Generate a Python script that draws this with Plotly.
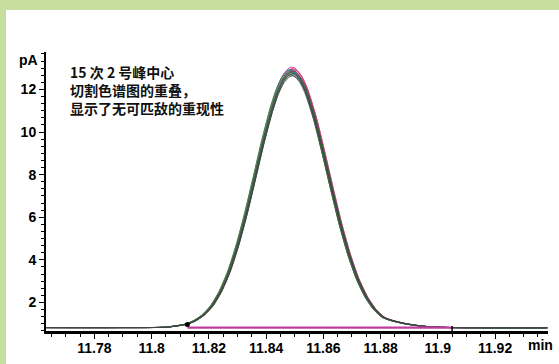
import plotly.graph_objects as go

# ---- data ----
# sample times (min) and a single read-off profile (pA) of a typical run
times = [11.763, 11.790, 11.805, 11.812, 11.815, 11.818, 11.821, 11.824, 11.827,
         11.830, 11.833, 11.836, 11.839, 11.842, 11.844, 11.846, 11.848, 11.849,
         11.850, 11.852, 11.854,
         11.857, 11.860, 11.863, 11.866, 11.869, 11.872, 11.875, 11.878, 11.881,
         11.884, 11.888, 11.892, 11.896, 11.900, 11.905, 11.920, 11.938]
profile = [0.82, 0.82, 0.84, 0.98, 1.14, 1.41, 1.84, 2.51, 3.45,
           4.70, 6.21, 7.91, 9.64, 11.17, 11.99, 12.56, 12.86, 12.90,
           12.86, 12.56, 11.99,
           10.70, 9.07, 7.34, 5.68, 4.25, 3.10, 2.26, 1.67, 1.30,
           1.15, 1.02, 0.93, 0.87, 0.84, 0.82, 0.81, 0.81]
profile_apex = 12.90
profile_base = 0.82

# apex heights (pA) and small retention shifts (min) of the 15 runs
run_apex = [13.05, 12.98, 12.95, 12.92, 12.90, 12.88, 12.86, 12.85,
            12.83, 12.80, 12.78, 12.75, 12.72, 12.68, 12.64]
run_shift = [0.0000, 0.0004, -0.0003, 0.0005, -0.0005, 0.0002, -0.0002, 0.0003,
             -0.0004, 0.0001, -0.0001, 0.0004, 0.0000, -0.0003, 0.0002]
run_colors = ["#d8308a", "#e02828", "#3050c8", "#c04898", "#2a8a4a", "#7040a0",
              "#2070b0", "#a03030", "#708030", "#008080", "#606060", "#306a3a",
              "#4a4a6a", "#3f5f3f", "#404040"]

# integration baseline and peak start / end marks
baseline_t = [11.8125, 11.905]
baseline_v = [0.82, 0.82]
start_t = [11.8125]
start_v = [0.97]
end_t = [11.905]
end_v = [0.70]

x_tickvals = [11.78, 11.80, 11.82, 11.84, 11.86, 11.88, 11.90, 11.92]
x_ticktext = ["11.78", "11.8", "11.82", "11.84", "11.86", "11.88", "11.9", "11.92"]
y_tickvals = [2, 4, 6, 8, 10, 12]
y_ticktext = ["2", "4", "6", "8", "10", "12"]

title_lines = ["15 次 2 号峰中心", "切割色谱图的重叠，", "显示了无可匹敌的重现性"]

# ---- figure ----
fig = go.Figure()
for apex, shift, col in zip(run_apex, run_shift, run_colors):
    k = (apex - profile_base) / (profile_apex - profile_base)
    ys = [profile_base + (p - profile_base) * k for p in profile]
    xs = [t + shift for t in times]
    fig.add_trace(go.Scatter(x=xs, y=ys, mode="lines",
                             line=dict(color=col, width=0.9, shape="spline",
                                       smoothing=0.6),
                             showlegend=False, hoverinfo="skip"))

fig.add_trace(go.Scatter(x=baseline_t, y=baseline_v, mode="lines",
                         line=dict(color="#c03c9c", width=2.2), showlegend=False))
fig.add_trace(go.Scatter(x=start_t, y=start_v, mode="markers",
                         marker=dict(color="black", size=5), showlegend=False))
fig.add_trace(go.Scatter(x=end_t, y=end_v, mode="markers",
                         marker=dict(symbol="line-ns", size=6,
                                     line=dict(color="black", width=1.5)),
                         showlegend=False))

num_font = dict(family="Liberation Sans, Arial, sans-serif",
                size=14, color="black", weight="bold")

fig.update_layout(
    width=559, height=364,
    margin=dict(l=46, r=11, t=52, b=33, autoexpand=False),
    paper_bgcolor="#c6df9f",
    plot_bgcolor="white",
    xaxis=dict(range=[11.7631, 11.9385], showgrid=False, zeroline=False,
               showline=True, linecolor="black", linewidth=2.5,
               tickmode="array", tickvals=x_tickvals, ticktext=x_ticktext,
               ticks="outside", ticklen=5, tickwidth=1, tickcolor="black",
               ticklabelstandoff=-3,
               tickfont=num_font,
               minor=dict(tick0=11.765, dtick=0.005, ticks="outside", ticklen=3,
                          tickwidth=1, tickcolor="black")),
    yaxis=dict(range=[0.66, 13.76], showgrid=False, zeroline=False,
               showline=True, linecolor="black", linewidth=2,
               tickmode="array", tickvals=y_tickvals, ticktext=y_ticktext,
               ticks="outside", ticklen=5, tickwidth=1, tickcolor="black",
               tickfont=num_font,
               minor=dict(tick0=0, dtick=1/3, ticks="outside", ticklen=3,
                          tickwidth=1, tickcolor="black")),
    shapes=[dict(type="rect", xref="paper", yref="paper",
                 x0=-0.0797, x1=1.1, y0=-0.2, y1=1.1505,
                 fillcolor="white", line=dict(width=0), layer="below")],
    annotations=[
        dict(text="<br>".join(title_lines), xref="paper", yref="paper",
             x=0.044, y=0.97, xanchor="left", yanchor="top", align="left",
             showarrow=False,
             font=dict(family="Noto Sans CJK SC", size=14, color="#111111",
                       weight="bold")),
        dict(text="pA", xref="paper", yref="paper", x=-0.012, y=0.97,
             xanchor="right", yanchor="middle", showarrow=False, font=num_font),
        dict(text="min", xref="paper", yref="paper", x=0.986, y=-0.05,
             xanchor="center", yanchor="middle", showarrow=False, font=num_font),
    ],
)

fig.write_html("out.html", config={"displayModeBar": False},
               post_script="document.body.style.margin='0px';"
                           "document.body.style.overflow='hidden';")
